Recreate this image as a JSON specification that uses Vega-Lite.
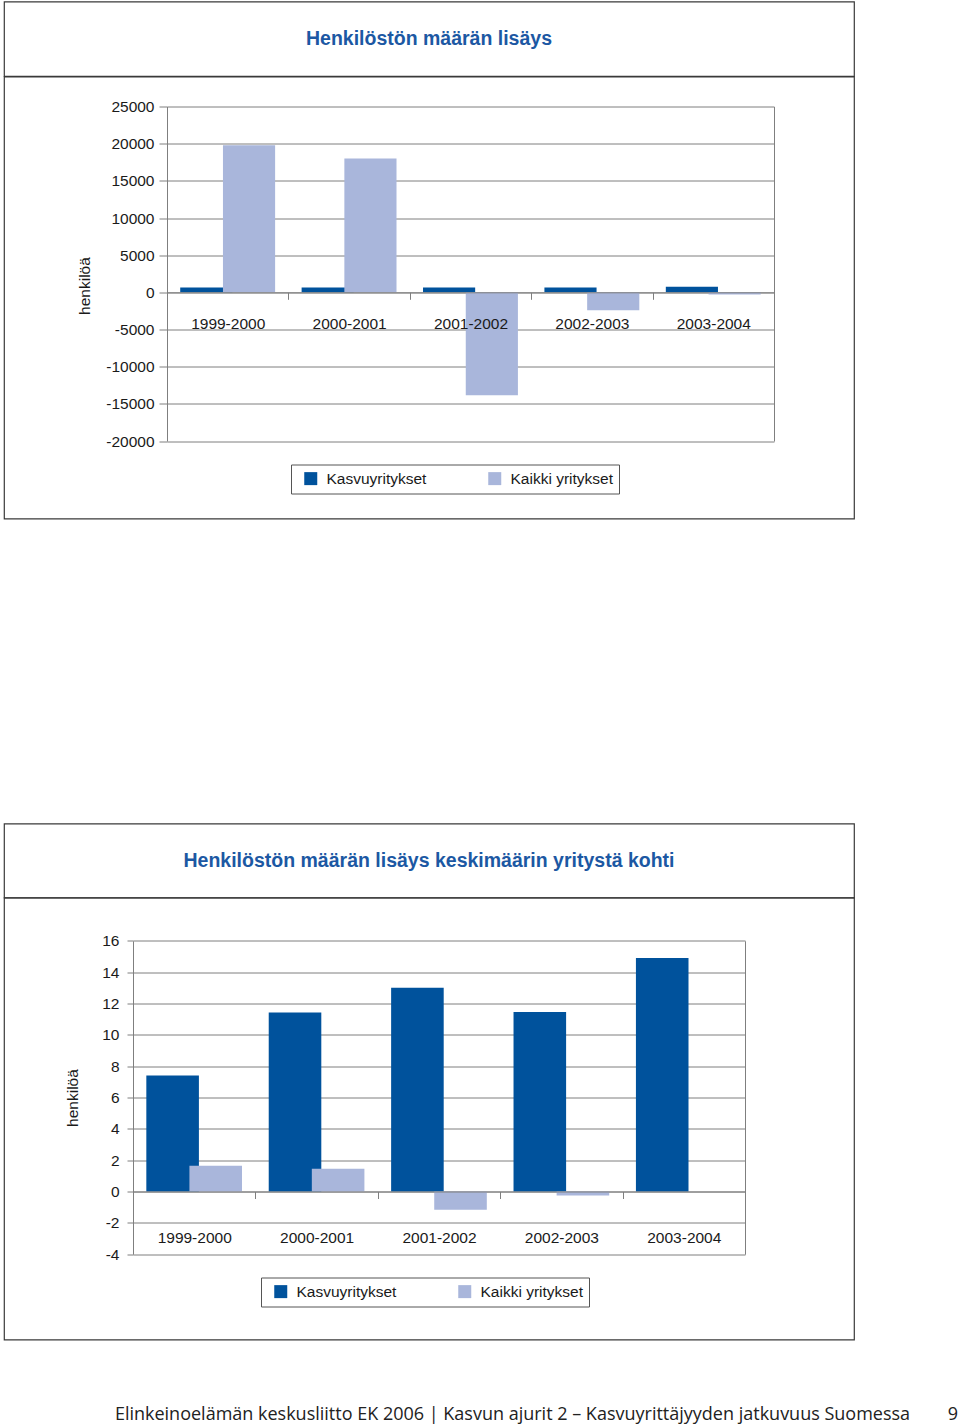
{
  "$schema": "https://vega.github.io/schema/vega-lite/v6.json",
  "padding": {"left": 3, "top": 0.5, "right": 0, "bottom": 0},
  "background": "white",
  "spacing": 0,
  "bounds": "flush",
  "resolve": {"scale": {"color": "independent", "xOffset": "independent"}, "legend": {"color": "independent"}},
  "datasets": {
    "d1": [
      {"period": "1999-2000", "series": "Kasvuyritykset", "value": 650},
      {"period": "2000-2001", "series": "Kasvuyritykset", "value": 650},
      {"period": "2001-2002", "series": "Kasvuyritykset", "value": 650},
      {"period": "2002-2003", "series": "Kasvuyritykset", "value": 650},
      {"period": "2003-2004", "series": "Kasvuyritykset", "value": 750},
      {"period": "1999-2000", "series": "Kaikki yritykset", "value": 19800},
      {"period": "2000-2001", "series": "Kaikki yritykset", "value": 18000},
      {"period": "2001-2002", "series": "Kaikki yritykset", "value": -13850},
      {"period": "2002-2003", "series": "Kaikki yritykset", "value": -2400},
      {"period": "2003-2004", "series": "Kaikki yritykset", "value": -300}
    ],
    "d2": [
      {"period": "1999-2000", "series": "Kasvuyritykset", "value": 7.4},
      {"period": "2000-2001", "series": "Kasvuyritykset", "value": 11.43},
      {"period": "2001-2002", "series": "Kasvuyritykset", "value": 13.0},
      {"period": "2002-2003", "series": "Kasvuyritykset", "value": 11.45},
      {"period": "2003-2004", "series": "Kasvuyritykset", "value": 14.91},
      {"period": "1999-2000", "series": "Kaikki yritykset", "value": 1.64},
      {"period": "2000-2001", "series": "Kaikki yritykset", "value": 1.45},
      {"period": "2001-2002", "series": "Kaikki yritykset", "value": -1.17},
      {"period": "2002-2003", "series": "Kaikki yritykset", "value": -0.26},
      {"period": "2003-2004", "series": "Kaikki yritykset", "value": 0}
    ],
    "t1": [{"t": "Henkilöstön määrän lisäys"}],
    "t2": [{"t": "Henkilöstön määrän lisäys keskimäärin yritystä kohti"}],
    "blank": [{"t": ""}],
    "foot": [{"a": "Elinkeinoelämän keskusliitto EK 2006   |   Kasvun ajurit 2 – Kasvuyrittäjyyden jatkuvuus Suomessa", "p": "9"}]
  },
  "config": {
    "view": {"stroke": "#3a3a3a", "strokeWidth": 1.2},
    "font": "Liberation Sans, Arial, sans-serif",
    "axis": {
      "labelFont": "Liberation Sans, Arial, sans-serif",
      "labelFontSize": 15.5,
      "labelColor": "#1a1a1a",
      "titleFont": "Liberation Sans, Arial, sans-serif",
      "titleFontSize": 15.5,
      "titleFontWeight": "normal",
      "titleColor": "#1a1a1a",
      "domainColor": "#7f7f7f",
      "tickColor": "#7f7f7f",
      "grid": false
    },
    "legend": {
      "labelFont": "Liberation Sans, Arial, sans-serif",
      "labelFontSize": 15.5,
      "labelColor": "#1a1a1a"
    }
  },
  "vconcat": [
    {
      "width": 850,
      "height": 74.5,
      "view": {"stroke": "#3a3a3a", "strokeWidth": 1.2},
      "data": {"name": "t1"},
      "mark": {"type": "text", "fontSize": 19.5, "fontWeight": "bold", "color": "#1C58A3", "align": "center", "baseline": "middle"},
      "encoding": {
        "x": {"field": "t", "type": "nominal", "axis": null},
        "y": {"field": "t", "type": "nominal", "axis": null},
        "text": {"field": "t"}
      }
    },
    {
      "width": 850,
      "height": 442,
      "data": {"name": "d1"},
      "layer": [
        {
          "mark": {"type": "bar", "width": {"band": 1.22}},
          "encoding": {
            "x": {
              "field": "period", "type": "nominal",
              "scale": {"type": "band", "domain": ["1999-2000", "2000-2001", "2001-2002", "2002-2003", "2003-2004"], "range": [163, 770], "paddingInner": 0, "paddingOuter": 0},
              "axis": {"orient": "bottom", "offset": -226.2, "title": null, "labelAngle": 0, "tickBand": "extent", "tickSize": 7, "labelPadding": 17, "zindex": 1}
            },
            "xOffset": {
              "field": "series", "type": "nominal",
              "scale": {"domain": ["Kasvuyritykset", "Kaikki yritykset"], "paddingInner": 0, "paddingOuter": 0.42, "align": 0.74}
            },
            "y": {
              "field": "value", "type": "quantitative",
              "scale": {"domain": [-20000, 25000], "range": [364.5, 30], "nice": false},
              "axis": {"orient": "left", "offset": -163, "values": [-20000, -15000, -10000, -5000, 0, 5000, 10000, 15000, 20000, 25000], "tickSize": 8, "labelPadding": 5, "title": "henkilöä", "titlePadding": 13, "titleY": 209, "labelExpr": "datum.value + ''"}
            },
            "color": {
              "field": "series", "type": "nominal",
              "scale": {"domain": ["Kasvuyritykset", "Kaikki yritykset"], "range": ["#00529C", "#A9B6DB"]},
              "legend": {"orient": "none", "legendX": 287, "legendY": 388, "direction": "horizontal", "title": null, "symbolType": "square", "symbolSize": 169, "symbolStrokeWidth": 0, "symbolOpacity": 1, "labelOffset": 8, "columnPadding": 54, "padding": 6, "symbolOffset": 6, "strokeColor": "#555555", "labelExpr": "datum.label == 'Kaikki yritykset' ? datum.label + '\u00a0\u00a0\u00a0\u00a0\u00a0\u00a0' : datum.label"}
            }
          }
        },
        {
          "mark": {"type": "tick", "opacity": 0},
          "encoding": {
            "y": {
              "field": "value", "type": "quantitative",
              "axis": {"orient": "right", "offset": -80, "values": [-20000, -15000, -10000, -5000, 0, 5000, 10000, 15000, 20000, 25000], "tickSize": -607, "labels": false, "title": null, "domain": true}
            }
          }
        }
      ],
      "resolve": {"axis": {"y": "independent"}}
    },
    {
      "width": 850,
      "height": 305,
      "view": {"stroke": null},
      "data": {"name": "blank"},
      "mark": {"type": "text"},
      "encoding": {"text": {"field": "t"}}
    },
    {
      "width": 850,
      "height": 74,
      "view": {"stroke": "#3a3a3a", "strokeWidth": 1.2},
      "data": {"name": "t2"},
      "mark": {"type": "text", "fontSize": 19.5, "fontWeight": "bold", "color": "#1C58A3", "align": "center", "baseline": "middle"},
      "encoding": {
        "x": {"field": "t", "type": "nominal", "axis": null},
        "y": {"field": "t", "type": "nominal", "axis": null},
        "text": {"field": "t"}
      }
    },
    {
      "width": 850,
      "height": 442,
      "data": {"name": "d2"},
      "layer": [
        {
          "mark": {"type": "bar", "width": {"band": 1.22}},
          "encoding": {
            "x": {
              "field": "period", "type": "nominal",
              "scale": {"type": "band", "domain": ["1999-2000", "2000-2001", "2001-2002", "2002-2003", "2003-2004"], "range": [129, 741], "paddingInner": 0, "paddingOuter": 0},
              "axis": {"orient": "bottom", "offset": -148, "title": null, "labelAngle": 0, "tickBand": "extent", "tickSize": 7, "labelPadding": 32, "zindex": 1}
            },
            "xOffset": {
              "field": "series", "type": "nominal",
              "scale": {"domain": ["Kasvuyritykset", "Kaikki yritykset"], "paddingInner": 0, "paddingOuter": 0.42, "align": 0.74}
            },
            "y": {
              "field": "value", "type": "quantitative",
              "scale": {"domain": [-4, 16], "range": [356.7, 43.3], "nice": false},
              "axis": {"orient": "left", "offset": -129, "values": [-4, -2, 0, 2, 4, 6, 8, 10, 12, 14, 16], "tickSize": 6, "labelPadding": 8, "title": "henkilöä", "titlePadding": 21, "labelExpr": "datum.value + ''"}
            },
            "color": {
              "field": "series", "type": "nominal",
              "scale": {"domain": ["Kasvuyritykset", "Kaikki yritykset"], "range": ["#00529C", "#A9B6DB"]},
              "legend": {"orient": "none", "legendX": 257, "legendY": 380, "direction": "horizontal", "title": null, "symbolType": "square", "symbolSize": 169, "symbolStrokeWidth": 0, "symbolOpacity": 1, "labelOffset": 8, "columnPadding": 54, "padding": 6, "symbolOffset": 6, "strokeColor": "#555555", "labelExpr": "datum.label == 'Kaikki yritykset' ? datum.label + '\u00a0\u00a0\u00a0\u00a0\u00a0\u00a0' : datum.label"}
            }
          }
        },
        {
          "mark": {"type": "tick", "opacity": 0},
          "encoding": {
            "y": {
              "field": "value", "type": "quantitative",
              "axis": {"orient": "right", "offset": -109, "values": [-4, -2, 0, 2, 4, 6, 8, 10, 12, 14, 16], "tickSize": -612, "labels": false, "title": null, "domain": true}
            }
          }
        }
      ],
      "resolve": {"axis": {"y": "independent"}}
    },
    {
      "width": 957,
      "height": 88,
      "view": {"stroke": null},
      "data": {"name": "foot"},
      "layer": [
        {
          "mark": {"type": "text", "font": "Open Sans", "fontSize": 18, "color": "#222222", "align": "center", "baseline": "middle", "dx": 30, "dy": 31},
          "encoding": {"text": {"field": "a"}}
        },
        {
          "mark": {"type": "text", "font": "Open Sans", "fontSize": 18, "color": "#222222", "align": "center", "baseline": "middle", "dx": 470.5, "dy": 31},
          "encoding": {"text": {"field": "p"}}
        }
      ]
    }
  ]
}
